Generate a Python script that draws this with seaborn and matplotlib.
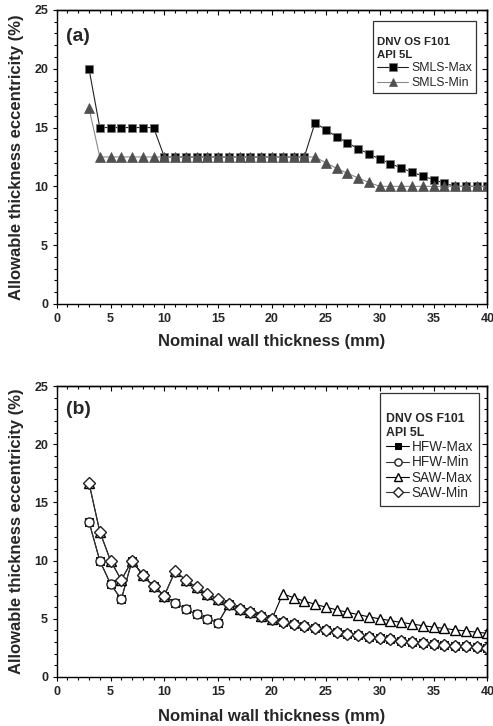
import matplotlib
matplotlib.use("Agg")
import matplotlib.pyplot as plt
import seaborn as sns
import numpy as np
from matplotlib.ticker import MultipleLocator

# ---------------- data ----------------
thickness = list(range(3, 41))

smls_max = [20.0, 15.0, 15.0, 15.0, 15.0, 15.0, 15.0,
            12.5, 12.5, 12.5, 12.5, 12.5, 12.5, 12.5, 12.5, 12.5, 12.5, 12.5, 12.5, 12.5, 12.5,
            15.42, 14.8, 14.23, 13.7, 13.21, 12.76, 12.33, 11.94, 11.56, 11.21, 10.88, 10.57, 10.28,
            10.0, 10.0, 10.0, 10.0]
smls_min = [16.67, 12.5, 12.5, 12.5, 12.5, 12.5, 12.5,
            12.5, 12.5, 12.5, 12.5, 12.5, 12.5, 12.5, 12.5, 12.5, 12.5, 12.5, 12.5, 12.5, 12.5,
            12.5, 12.0, 11.54, 11.11, 10.71, 10.34, 10.0, 10.0, 10.0, 10.0, 10.0, 10.0, 10.0,
            10.0, 10.0, 10.0, 10.0]

hfw_min = [13.33, 10.0, 8.0, 6.67, 10.0, 8.75, 7.78, 7.0, 6.36, 5.83, 5.38, 5.0, 4.67,
           6.25, 5.88, 5.56, 5.26, 5.0, 4.76, 4.55, 4.35, 4.17, 4.0, 3.85, 3.7, 3.57, 3.45,
           3.33, 3.23, 3.13, 3.03, 2.94, 2.86, 2.78, 2.7, 2.63, 2.56, 2.5]
hfw_max = list(hfw_min)
saw_min = [16.67, 12.5, 10.0, 8.33, 10.0, 8.75, 7.78, 7.0, 9.09, 8.33, 7.69, 7.14, 6.67,
           6.25, 5.88, 5.56, 5.26, 5.0, 4.76, 4.55, 4.35, 4.17, 4.0, 3.85, 3.7, 3.57, 3.45,
           3.33, 3.23, 3.13, 3.03, 2.94, 2.86, 2.78, 2.7, 2.63, 2.56, 2.5]
saw_max = [16.67, 12.5, 10.0, 8.33, 10.0, 8.75, 7.78, 7.0, 9.09, 8.33, 7.69, 7.14, 6.67,
           6.25, 5.88, 5.56, 5.26, 5.0, 7.14, 6.82, 6.52, 6.25, 6.0, 5.77, 5.56, 5.36, 5.17,
           5.0, 4.84, 4.69, 4.55, 4.41, 4.29, 4.17, 4.05, 3.95, 3.85, 3.75]

x_ticks = [0, 5, 10, 15, 20, 25, 30, 35, 40]
y_ticks = [0, 5, 10, 15, 20, 25]
legend_title = "DNV OS F101\nAPI 5L"

# ---------------- style ----------------
sns.set_style("ticks")
plt.rcParams["font.family"] = ["Liberation Sans", "DejaVu Sans"]
plt.rcParams["axes.linewidth"] = 1.0

fig = plt.figure(figsize=(4.93, 7.26), dpi=100)
ax1 = fig.add_axes([0.1150, 0.5813, 0.8735, 0.4050])
ax2 = fig.add_axes([0.1150, 0.0675, 0.8735, 0.4008])


def style_axes(ax, label, label_y, xlabelpad):
    ax.set_xlim(0, 40)
    ax.set_ylim(0, 25)
    ax.set_xticks(x_ticks)
    ax.set_yticks(y_ticks)
    ax.xaxis.set_minor_locator(MultipleLocator(1))
    ax.yaxis.set_minor_locator(MultipleLocator(1))
    ax.tick_params(which="both", direction="out", labelsize=9, color="black",
                   width=0.8, pad=3)
    ax.tick_params(which="major", length=3.2)
    ax.tick_params(which="minor", length=2.3)
    for lab in ax.get_xticklabels() + ax.get_yticklabels():
        lab.set_fontweight("bold")
    # inward ticks on top and right
    for side, axis in (("top", "x"), ("right", "y")):
        sec = ax.secondary_xaxis("top") if axis == "x" else ax.secondary_yaxis("right")
        sec.set_ticks(x_ticks if axis == "x" else y_ticks)
        (sec.xaxis if axis == "x" else sec.yaxis).set_minor_locator(MultipleLocator(1))
        sec.tick_params(which="both", direction="in", labelleft=False, labelright=False,
                        labeltop=False, labelbottom=False, width=0.8, color="black")
        sec.tick_params(which="major", length=3.5)
        sec.tick_params(which="minor", length=2.3)
        sec.spines[side].set_linewidth(1.0)
    for s in ax.spines.values():
        s.set_color("black")
        s.set_linewidth(1.0)
    ax.set_xlabel("Nominal wall thickness (mm)", fontsize=12, fontweight="bold",
                  labelpad=xlabelpad)
    ax.set_ylabel("Allowable thickness eccentricity (%)", fontsize=12, fontweight="bold",
                  labelpad=7)
    ax.text(0.022, label_y, label, transform=ax.transAxes, fontsize=14, fontweight="bold",
            va="top", ha="left")


# ---------------- panel (a) ----------------
sns.lineplot(x=thickness, y=smls_max, ax=ax1, color="#222222", lw=0.8,
             marker="s", markersize=6, markerfacecolor="black", markeredgecolor="#777777",
             markeredgewidth=0.5, label="SMLS-Max")
sns.lineplot(x=thickness, y=smls_min, ax=ax1, color="#8a8a8a", lw=0.8,
             marker="^", markersize=7, markerfacecolor="#505050", markeredgecolor="#505050",
             markeredgewidth=0.5, label="SMLS-Min")
style_axes(ax1, "(a)", 0.94, 6.5)
leg1 = ax1.legend(title="\n" + legend_title, loc="upper right",
                  bbox_to_anchor=(0.974, 0.964), borderaxespad=0,
                  fontsize=8.8, title_fontproperties={"weight": "bold", "size": 8.2},
                  alignment="left", frameon=True, fancybox=False, edgecolor="black",
                  handlelength=2.5, handletextpad=0.25, borderpad=0.35, labelspacing=0.22,
                  markerscale=0.9)
leg1.get_title().set_linespacing(1.3)
leg1.get_frame().set_linewidth(0.9)

# ---------------- panel (b) ----------------
sns.lineplot(x=thickness, y=hfw_max, ax=ax2, color="black", lw=0.8,
             marker="s", markersize=3, markerfacecolor="black", markeredgecolor="black",
             label="HFW-Max")
sns.lineplot(x=thickness, y=hfw_min, ax=ax2, color="#333333", lw=0.8,
             marker="o", markersize=6.5, markerfacecolor="white", markeredgecolor="#222222",
             markeredgewidth=1.0, label="HFW-Min")
sns.lineplot(x=thickness, y=saw_max, ax=ax2, color="black", lw=0.8,
             marker="^", markersize=7, markerfacecolor="white", markeredgecolor="black",
             markeredgewidth=1.0, label="SAW-Max")
sns.lineplot(x=thickness, y=saw_min, ax=ax2, color="#333333", lw=0.8,
             marker="D", markersize=6, markerfacecolor="white", markeredgecolor="#222222",
             markeredgewidth=1.0, label="SAW-Min")
style_axes(ax2, "(b)", 0.95, 8)
handles, labels = ax2.get_legend_handles_labels()
handles[0].set_markersize(6)
leg2 = ax2.legend(handles, labels, title="\n" + legend_title, loc="upper right",
                  bbox_to_anchor=(0.981, 0.976), borderaxespad=0,
                  fontsize=9.8, title_fontproperties={"weight": "bold", "size": 8.8},
                  alignment="left", frameon=True, fancybox=False, edgecolor="black",
                  handlelength=1.7, handletextpad=0.15, borderpad=0.45, labelspacing=0.1,
                  markerscale=0.8)
leg2.get_frame().set_linewidth(0.9)

fig.savefig("out.png", dpi=100)
